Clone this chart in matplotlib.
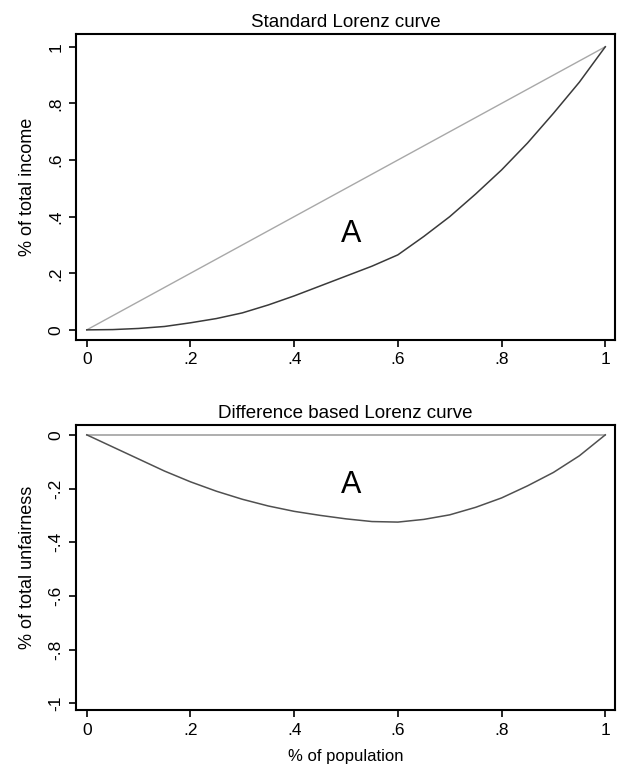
import numpy as np
import matplotlib.pyplot as plt

# data
pop = [0, 0.05, 0.1, 0.15, 0.2, 0.25, 0.3, 0.35, 0.4, 0.45, 0.5,
       0.55, 0.6, 0.65, 0.7, 0.75, 0.8, 0.85, 0.9, 0.95, 1.0]
lorenz = [0, 0.001, 0.005, 0.012, 0.025, 0.04, 0.06, 0.088, 0.12, 0.155, 0.19,
          0.225, 0.265, 0.33, 0.40, 0.48, 0.565, 0.66, 0.765, 0.875, 1.0]
equality = [0, 1.0]

diff = [0, -0.045, -0.09, -0.135, -0.175, -0.21, -0.24, -0.265, -0.285, -0.30, -0.313,
        -0.323, -0.325, -0.315, -0.298, -0.27, -0.235, -0.19, -0.14, -0.078, 0]

xticks = [0, 0.2, 0.4, 0.6, 0.8, 1.0]
xtick_labels = ["0", ".2", ".4", ".6", ".8", "1"]
yticks_top = [0, 0.2, 0.4, 0.6, 0.8, 1.0]
ytick_labels_top = ["0", ".2", ".4", ".6", ".8", "1"]
yticks_bot = [-1.0, -0.8, -0.6, -0.4, -0.2, 0]
ytick_labels_bot = ["-1", "-.8", "-.6", "-.4", "-.2", "0"]

plt.rcParams['font.family'] = ['Liberation Sans', 'DejaVu Sans']

fig = plt.figure(figsize=(6.17, 7.67), dpi=100)
ax1 = fig.add_axes([0.123, 0.557, 0.874, 0.399])
ax2 = fig.add_axes([0.123, 0.074, 0.874, 0.372])

def style(ax):
    for s in ax.spines.values():
        s.set_linewidth(1.5)
    ax.tick_params(direction='out', length=5, width=1.2, labelsize=12.5, pad=4)
    ax.set_xticks(xticks)
    ax.set_xticklabels(xtick_labels)
    ax.set_xlim(-0.021, 1.019)
    for lab in ax.get_yticklabels():
        lab.set_rotation(90)
        lab.set_va('center')

# top panel
ax1.plot(equality, equality, color="#a8a8a8", lw=1)
ax1.plot(pop, lorenz, color="#3a3a3a", lw=1.1)
ax1.set_yticks(yticks_top)
ax1.set_yticklabels(ytick_labels_top)
ax1.set_ylim(-0.035, 1.046)
ax1.set_title("Standard Lorenz curve", fontsize=13.5, pad=5)
ax1.set_ylabel("% of total income", fontsize=13, labelpad=9)
ax1.text(0.51, 0.34, "A", fontsize=22, ha='center', va='center')
style(ax1)

# bottom panel
ax2.plot(equality, [0, 0], color="#a8a8a8", lw=1.3)
ax2.plot(pop, diff, color="#505050", lw=1.1)
ax2.set_yticks(yticks_bot)
ax2.set_yticklabels(ytick_labels_bot)
ax2.set_ylim(-1.026, 0.037)
ax2.set_title("Difference based Lorenz curve", fontsize=13.5, pad=5)
ax2.set_ylabel("% of total unfairness", fontsize=13, labelpad=9)
ax2.set_xlabel("% of population", fontsize=12, labelpad=8)
ax2.text(0.51, -0.185, "A", fontsize=22, ha='center', va='center')
style(ax2)

fig.savefig("out.png", dpi=100)
